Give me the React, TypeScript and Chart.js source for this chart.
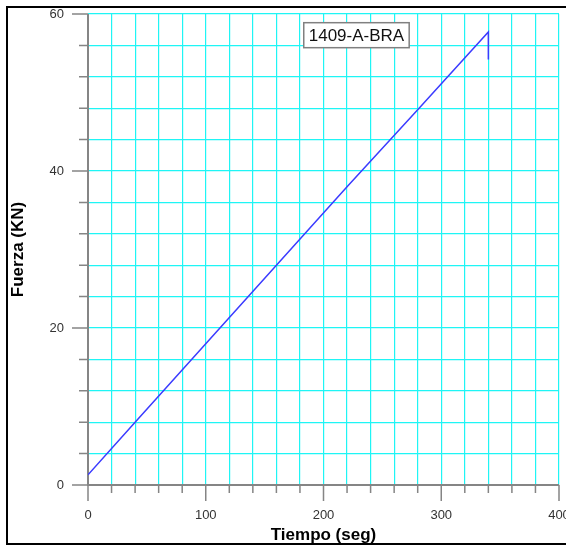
import React, { useEffect, useRef } from "react";
import { Chart, registerables } from "chart.js";

Chart.register(...registerables);

const timeValues = [0, 40, 100, 160, 220, 280, 340, 340];
const forceValues = [1.3, 8.0, 18.0, 28.0, 38.0, 47.8, 57.7, 54.2];
const xMajorTicks = [0, 100, 200, 300, 400];
const yMajorTicks = [0, 20, 40, 60];
const sampleLabel = "1409-A-BRA";
const labelAnchor = { x: 228, y: 57.3 };
const xTitle = "Tiempo (seg)";
const yTitle = "Fuerza (KN)";

const FONT = "'Liberation Sans', Arial, sans-serif";

const axisPlugin = {
  id: "axisDecor",
  beforeDatasetsDraw(chart: any) {
    const ctx = chart.ctx;
    const xs = chart.scales.x;
    const ys = chart.scales.y;
    const x0 = xs.getPixelForValue(xs.min);
    const y0 = ys.getPixelForValue(ys.min);
    ctx.save();
    ctx.strokeStyle = "#858585";
    ctx.lineWidth = 2;
    ctx.beginPath();
    ctx.moveTo(x0, ys.getPixelForValue(ys.max));
    ctx.lineTo(x0, y0);
    ctx.lineTo(xs.getPixelForValue(xs.max), y0);
    ctx.stroke();
    ctx.lineWidth = 1.5;
    ctx.beginPath();
    xs.ticks.forEach((t: any) => {
      const px = xs.getPixelForValue(t.value);
      const len = xMajorTicks.includes(t.value) ? 16 : 8;
      ctx.moveTo(px, y0);
      ctx.lineTo(px, y0 + len);
    });
    ys.ticks.forEach((t: any) => {
      const py = ys.getPixelForValue(t.value);
      const len = yMajorTicks.includes(t.value) ? 16 : 9;
      ctx.moveTo(x0, py);
      ctx.lineTo(x0 - len, py);
    });
    ctx.stroke();
    ctx.restore();
  },
  afterDatasetsDraw(chart: any) {
    const ctx = chart.ctx;
    const cx = chart.scales.x.getPixelForValue(labelAnchor.x);
    const cy = chart.scales.y.getPixelForValue(labelAnchor.y);
    ctx.save();
    ctx.font = `17px ${FONT}`;
    const w = ctx.measureText(sampleLabel).width + 10;
    const h = 25;
    ctx.fillStyle = "#ffffff";
    ctx.fillRect(cx - w / 2, cy - h / 2, w, h);
    ctx.strokeStyle = "#808080";
    ctx.lineWidth = 1.5;
    ctx.strokeRect(cx - w / 2, cy - h / 2, w, h);
    ctx.fillStyle = "#111";
    ctx.textAlign = "center";
    ctx.textBaseline = "middle";
    ctx.fillText(sampleLabel, cx, cy + 1);
    ctx.restore();
  },
};

export default function App() {
  const ref = useRef<HTMLCanvasElement>(null);
  useEffect(() => {
    if (!ref.current) return;
    const chart = new Chart(ref.current, {
      type: "scatter",
      data: {
        datasets: [
          {
            data: timeValues.map((t, i) => ({ x: t, y: forceValues[i] })),
            showLine: true,
            borderColor: "#3b3bff",
            borderWidth: 1.5,
            pointRadius: 0,
            tension: 0,
          },
        ],
      },
      options: {
        animation: false,
        responsive: false,
        devicePixelRatio: 1,
        layout: { padding: { left: 0, top: 14, right: 41, bottom: 0 } },
        plugins: { legend: { display: false }, tooltip: { enabled: false } },
        scales: {
          x: {
            type: "linear",
            min: 0,
            max: 400,
            afterFit: (s: any) => {
              s.height = 63;
              s.paddingLeft = 0;
              s.paddingRight = 0;
              s.paddingTop = 0;
              s.paddingBottom = 0;
            },
            border: { display: false },
            grid: { color: "#1ff5f5", lineWidth: 1.2, drawTicks: false },
            ticks: {
              stepSize: 20,
              autoSkip: false,
              maxRotation: 0,
              padding: 23,
              color: "#333",
              font: { family: FONT, size: 13 },
              callback: (v: any) => (xMajorTicks.includes(v) ? String(v) : ""),
            },
            title: {
              display: true,
              text: xTitle,
              color: "#000",
              font: { family: FONT, size: 17, weight: "bold" },
              padding: { top: 0, bottom: 2 },
            },
          },
          y: {
            type: "linear",
            min: 0,
            max: 60,
            afterFit: (s: any) => {
              s.width = 88;
              s.paddingLeft = 0;
              s.paddingRight = 0;
              s.paddingTop = 0;
              s.paddingBottom = 0;
            },
            border: { display: false },
            grid: { color: "#1ff5f5", lineWidth: 1.2, drawTicks: false },
            ticks: {
              stepSize: 4,
              autoSkip: false,
              padding: 24,
              color: "#333",
              font: { family: FONT, size: 13 },
              callback: (v: any) => (yMajorTicks.includes(v) ? String(v) : ""),
            },
            title: {
              display: true,
              text: yTitle,
              color: "#000",
              font: { family: FONT, size: 17, weight: "bold" },
              padding: { top: 8, bottom: 0 },
            },
          },
        },
      },
      plugins: [axisPlugin],
    });
    return () => chart.destroy();
  }, []);

  return (
    <div
      style={{
        position: "fixed",
        left: 0,
        top: 0,
        width: 566,
        height: 548,
        overflow: "hidden",
        background: "#fff",
      }}
    >
      <div
        style={{
          position: "absolute",
          left: 6,
          top: 6,
          width: 600,
          height: 535,
          border: "2px solid #000",
        }}
      />
      <canvas
        ref={ref}
        width={600}
        height={548}
        style={{ position: "absolute", left: 0, top: 0, width: 600, height: 548 }}
      />
    </div>
  );
}
